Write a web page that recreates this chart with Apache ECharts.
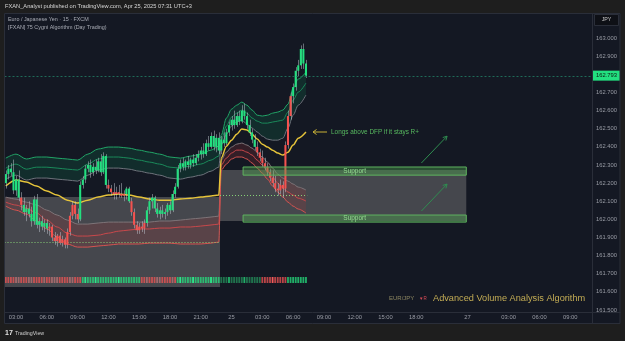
<!DOCTYPE html>
<html>
<head>
<meta charset="utf-8">
<script src="https://cdn.jsdelivr.net/npm/echarts@6/dist/echarts.min.js"></script>
<style>
  html, body { margin: 0; padding: 0; background: #1e1e1e; }
  #main { width: 625px; height: 341px; }
</style>
</head>
<body>
<div id="main"></div>
<script>
// EUR/JPY 15m FXCM, bars start Apr 24 02:00 (UTC+3)
const opens = [162.20,162.25,162.28,162.26,162.16,162.22,162.12,162.08,162.04,162.06,162.03,161.99,162.11,161.97,161.99,161.96,161.98,161.95,161.96,161.90,
  161.88,161.91,161.87,161.89,161.86,161.93,162.02,162.08,162.03,162.00,162.19,162.22,162.28,162.30,162.26,162.29,162.27,162.32,162.26,162.35,
  162.19,162.17,162.15,162.14,162.15,162.14,162.13,162.14,162.17,162.10,162.04,161.97,161.94,161.96,161.95,161.98,162.05,162.10,162.12,162.06,
  162.03,162.05,162.03,162.04,162.08,162.05,162.14,162.18,162.28,162.31,162.29,162.32,162.30,162.33,162.31,162.34,162.36,162.38,162.36,162.42,
  162.40,162.46,162.40,162.45,162.38,162.44,162.42,162.48,162.52,162.55,162.52,162.57,162.54,162.60,162.57,162.52,162.48,162.44,162.40,162.37,
  162.34,162.31,162.29,162.26,162.23,162.20,162.17,162.16,162.19,162.17,162.41,162.57,162.68,162.73,162.82,162.85,162.94,162.86];
const highs = [162.27,162.30,162.31,162.33,162.24,162.27,162.15,162.12,162.08,162.10,162.07,162.13,162.14,162.01,162.02,162.00,162.00,161.98,161.97,161.93,
  161.92,161.93,161.91,161.90,161.95,162.04,162.10,162.10,162.06,162.21,162.24,162.30,162.32,162.33,162.31,162.33,162.34,162.36,162.37,162.36,
  162.22,162.19,162.20,162.18,162.19,162.20,162.16,162.18,162.18,162.12,162.06,161.99,161.98,161.99,162.00,162.07,162.12,162.14,162.13,162.09,
  162.07,162.08,162.06,162.09,162.10,162.16,162.20,162.30,162.33,162.34,162.33,162.35,162.34,162.36,162.36,162.38,162.40,162.42,162.44,162.46,
  162.48,162.49,162.47,162.48,162.46,162.48,162.50,162.54,162.57,162.60,162.59,162.60,162.63,162.64,162.59,162.55,162.50,162.47,162.43,162.39,
  162.38,162.34,162.31,162.28,162.27,162.24,162.20,162.22,162.21,162.43,162.60,162.70,162.75,162.84,162.88,162.96,162.97,162.88];
const lows = [162.17,162.22,162.24,162.14,162.13,162.10,162.05,162.02,161.99,162.01,161.96,161.97,161.95,161.93,161.94,161.93,161.92,161.91,161.88,161.86,
  161.85,161.86,161.85,161.84,161.84,161.91,162.00,162.00,161.98,161.99,162.17,162.20,162.26,162.23,162.24,162.25,162.26,162.24,162.25,162.17,
  162.15,162.13,162.11,162.11,162.12,162.12,162.10,162.11,162.09,162.02,161.95,161.92,161.92,161.93,161.92,161.96,162.03,162.06,162.04,162.01,
  162.00,162.01,162.00,162.02,162.03,162.04,162.12,162.17,162.26,162.27,162.27,162.28,162.28,162.29,162.30,162.32,162.33,162.34,162.35,162.38,
  162.39,162.38,162.37,162.36,162.36,162.40,162.41,162.46,162.49,162.50,162.51,162.52,162.53,162.55,162.50,162.46,162.42,162.38,162.35,162.32,
  162.29,162.27,162.24,162.21,162.18,162.15,162.13,162.14,162.12,162.15,162.39,162.55,162.64,162.71,162.79,162.83,162.83,162.78];
const closes = [162.25,162.28,162.26,162.16,162.22,162.12,162.08,162.04,162.06,162.03,161.99,162.11,161.97,161.99,161.96,161.98,161.95,161.96,161.90,161.88,
  161.91,161.87,161.89,161.86,161.93,162.02,162.08,162.03,162.00,162.19,162.22,162.28,162.30,162.26,162.29,162.27,162.32,162.26,162.35,162.19,
  162.17,162.15,162.14,162.15,162.14,162.13,162.14,162.17,162.10,162.04,161.97,161.94,161.96,161.95,161.98,162.05,162.10,162.12,162.06,162.03,
  162.05,162.03,162.04,162.08,162.05,162.14,162.18,162.28,162.31,162.29,162.32,162.30,162.33,162.31,162.34,162.36,162.38,162.36,162.42,162.40,
  162.46,162.40,162.45,162.38,162.44,162.42,162.48,162.52,162.55,162.52,162.57,162.54,162.60,162.57,162.52,162.48,162.44,162.40,162.37,162.34,
  162.31,162.29,162.26,162.23,162.20,162.17,162.16,162.19,162.17,162.41,162.57,162.68,162.73,162.82,162.85,162.94,162.86,162.793];
// candle colouring by the algorithm (g = bullish regime, r = bearish regime)
const candleColors = 'gggggg' + 'r' + 'gggggggggg' + 'rrrrrrrrrrrr' + 'ggggggggggg' + 'rrrrrrr' + 'gg' + 'rrrrrr' +
  'gggggggggg' + 'gggggggggg' + 'gggggggggg' + 'gggggggggg' + 'ggg' + 'rrrrrrrrrrrrrr' + 'gggggg';
// volume strip colours
const volumeColors = 'rrrrpprrrpprrrrprrppprrrrpprrr' + 'gGgggGggggggggGgggggggg' + 'rrprrrpprrrrpr' +
  'gGggggGggggggGggg' + 'dddgdddddgdddddd' + 'rrrrRrrrrr' + 'gggggggg';
const lastPrice = 162.793;

// indicator bands, sampled at these bars (two day sessions)
const bandIdx = [0,4,8,12,16,20,24,28,32,36,40,44,48,52,56,60,64,68,72,76,80,83,
  84,86,88,90,92,94,96,98,100,102,104,106,108,110,112,114,117];
const sessionSplit = 22;
const upperTop = [162.338,162.360,162.333,162.344,162.344,162.338,162.333,162.327,162.360,162.388,162.399,162.399,162.393,162.382,162.371,162.360,162.344,162.338,162.349,162.360,162.382,162.404,
  162.465,162.559,162.608,162.630,162.647,162.630,162.603,162.575,162.570,162.575,162.586,162.592,162.603,162.636,162.724,162.774,162.812];
const upperMid = [162.283,162.305,162.277,162.288,162.288,162.283,162.277,162.272,162.305,162.333,162.344,162.344,162.338,162.327,162.316,162.305,162.288,162.283,162.294,162.305,162.327,162.349,
  162.437,162.515,162.564,162.586,162.603,162.586,162.559,162.542,162.531,162.531,162.537,162.542,162.548,162.592,162.658,162.702,162.752];
const upperLow = [162.222,162.244,162.217,162.228,162.228,162.222,162.217,162.211,162.244,162.272,162.283,162.283,162.277,162.266,162.255,162.244,162.228,162.222,162.233,162.244,162.266,162.288,
  162.410,162.470,162.515,162.537,162.548,162.526,162.504,162.482,162.459,162.443,162.437,162.437,162.448,162.504,162.575,162.630,162.686];
const dfp = [162.184,162.217,162.206,162.184,162.156,162.134,162.106,162.090,162.106,162.123,162.134,162.140,162.134,162.123,162.112,162.106,162.106,162.112,162.117,162.123,162.129,162.134,
  162.338,162.404,162.437,162.470,162.498,162.493,162.470,162.443,162.415,162.399,162.382,162.366,162.355,162.371,162.410,162.448,162.482];
const lowerHigh = [162.123,162.112,162.095,162.079,162.051,162.024,161.996,161.974,161.974,161.980,161.985,161.985,161.985,161.985,161.985,161.991,161.991,161.996,162.002,162.007,162.013,162.018,
  162.327,162.371,162.399,162.415,162.421,162.410,162.393,162.371,162.344,162.316,162.283,162.250,162.228,162.211,162.195,162.178,162.162];
const lowerMid = [162.095,162.079,162.062,162.035,161.996,161.958,161.924,161.908,161.908,161.913,161.924,161.935,161.941,161.947,161.947,161.952,161.952,161.958,161.958,161.963,161.969,161.974,
  162.300,162.338,162.366,162.382,162.382,162.371,162.355,162.327,162.300,162.266,162.233,162.200,162.173,162.151,162.134,162.117,162.101];
const lowerLow = [162.073,162.051,162.029,161.991,161.947,161.902,161.864,161.847,161.847,161.853,161.858,161.864,161.864,161.864,161.869,161.869,161.869,161.864,161.864,161.864,161.869,161.875,
  162.272,162.305,162.333,162.344,162.344,162.333,162.311,162.283,162.255,162.222,162.184,162.151,162.123,162.095,162.073,162.057,162.035];

// drawn zones: [first bar, last bar, top price, bottom price]
const rangeBoxes = [[0, 83, 162.123, 161.627], [84, 179, 162.272, 161.991]];
const supportZones = [[93, 179, 162.289, 162.244], [93, 179, 162.024, 161.985]];
// dotted levels: [first bar, last bar, price]
const dottedLevels = [[0, 83, 161.875], [84, 117, 162.134]];
// trade idea arrows: [bar, price, bar, price]
const ideaArrows = [[162, 162.311, 172, 162.459], [162, 162.046, 172, 162.195]];
const noteAnchor = [126, 162.482];

// time scale: 15 min bars, weekend gap after Fri 22:45
const nBars = 229, gapAt = 180;
const times = [];
for (let i = 0; i < nBars; i++) {
  const t = i < gapAt ? Date.UTC(2025, 3, 24, 2, 0) + i * 900000 : Date.UTC(2025, 3, 27, 23, 0) + (i - gapAt) * 900000;
  times.push(new Date(t));
}
const pad = n => (n < 10 ? '0' : '') + n;
const cats = times.map(d => pad(d.getUTCDate()) + ' ' + pad(d.getUTCHours()) + ':' + pad(d.getUTCMinutes()));
const labelMap = new Map();
const dayIdx = [];
times.forEach((d, i) => { if (i > 0 && d.getUTCDate() !== times[i - 1].getUTCDate()) dayIdx.push(i); });
let lastDay = -99;
dayIdx.forEach(i => { if (i - lastDay >= 12) { labelMap.set(i, String(times[i].getUTCDate())); lastDay = i; } });
const dayShown = [...labelMap.keys()];
times.forEach((d, i) => {
  if (d.getUTCMinutes() === 0 && d.getUTCHours() % 3 === 0 && dayIdx.indexOf(i) < 0) {
    if (!dayShown.some(k => Math.abs(k - i) < 10)) labelMap.set(i, pad(d.getUTCHours()) + ':00');
  }
});

const GREEN = '#22e07f', RED = '#f4524f';
const volPalette = { r: 'rgba(240,84,84,0.75)', p: 'rgba(210,125,125,0.65)', R: '#f25a5a',
  g: 'rgba(38,224,127,0.75)', G: '#2ee68a', d: 'rgba(40,175,105,0.6)' };
const FONT = 'Liberation Sans, Arial, sans-serif';
const AXIS_TXT = '#9a9da6';

const chart = echarts.init(document.getElementById('main'));

function bandLine(data, color, width) {
  return {
    type: 'line', data: bandIdx.map((x, k) => [x, data[k]]), showSymbol: false, smooth: 0.3,
    smoothMonotone: 'x', silent: true, lineStyle: { color: color, width: width }, z: 3
  };
}
function bandFill(upper, lower, color) {
  return {
    type: 'custom', silent: true, data: [[0], [1]], z: 2,
    renderItem: function (params, api) {
      const from = params.dataIndex === 0 ? 0 : sessionSplit;
      const to = params.dataIndex === 0 ? sessionSplit : bandIdx.length;
      const pts = [];
      for (let k = from; k < to; k++) pts.push(api.coord([bandIdx[k], upper[k]]));
      for (let k = to - 1; k >= from; k--) pts.push(api.coord([bandIdx[k], lower[k]]));
      return { type: 'polygon', shape: { points: pts }, style: { fill: color } };
    }
  };
}
function boxSeries(boxes, fill, stroke, text, z) {
  return {
    type: 'custom', silent: true, z: z, data: boxes, encode: { x: [0, 1], y: [2, 3] },
    renderItem: function (params, api) {
      const w = api.size([1, 0])[0];
      const a = api.coord([api.value(0), api.value(2)]);
      const b = api.coord([api.value(1), api.value(3)]);
      const x = a[0] - w / 2, width = b[0] + w / 2 - x;
      const children = [{ type: 'rect', shape: { x: x, y: a[1], width: width, height: b[1] - a[1] },
        style: { fill: fill, stroke: stroke, lineWidth: stroke ? 1 : 0 } }];
      if (text) children.push({ type: 'text', style: { x: x + width / 2, y: (a[1] + b[1]) / 2, text: text,
        fill: '#93dc8f', font: '6.5px ' + FONT, align: 'center', verticalAlign: 'middle' } });
      return { type: 'group', children: children };
    }
  };
}

const option = {
  backgroundColor: '#141823',
  animation: false,
  grid: { left: 4.5, right: 33, top: 20, bottom: 31 },
  xAxis: {
    type: 'category', data: cats, boundaryGap: true, z: 20,
    axisLine: { show: false }, axisTick: { show: false }, splitLine: { show: false },
    axisLabel: {
      interval: (i) => labelMap.has(i), formatter: (v, i) => labelMap.get(i) || '',
      color: AXIS_TXT, fontSize: 5.8, fontFamily: FONT, margin: 4.5
    }
  },
  yAxis: {
    type: 'value', position: 'right', min: 161.5, max: 163.1, interval: 0.1,
    axisLine: { show: false }, axisTick: { show: false }, splitLine: { show: false },
    axisLabel: { formatter: v => v.toFixed(3), showMaxLabel: false, color: AXIS_TXT, fontSize: 5.8,
      fontFamily: FONT, margin: 4 }
  },
  series: [
    boxSeries(rangeBoxes, 'rgba(128,128,128,0.45)', null, null, 1),
    bandFill(upperTop, upperLow, 'rgba(16,110,75,0.26)'),
    bandFill(lowerHigh, lowerLow, 'rgba(165,55,55,0.22)'),
    bandLine(upperTop, '#21a567', 1),
    bandLine(upperMid, '#1a8a5a', 1),
    bandLine(upperLow, '#6e727b', 1),
    bandLine(lowerHigh, '#7d7478', 1),
    bandLine(lowerMid, '#c9484b', 1),
    bandLine(lowerLow, '#d55350', 1),
    bandLine(dfp, '#e6c43a', 1.5),
    {
      type: 'custom', silent: true, z: 4, data: dottedLevels, encode: { x: [0, 1], y: 2 },
      renderItem: function (params, api) {
        const w = api.size([1, 0])[0];
        const a = api.coord([api.value(0), api.value(2)]), b = api.coord([api.value(1), api.value(2)]);
        const y = Math.round(a[1]) + 0.5;
        return { type: 'line', shape: { x1: a[0] - w / 2, y1: y, x2: b[0] + w / 2, y2: y },
          style: { stroke: '#86cf76', lineWidth: 1, lineDash: [1, 2] } };
      }
    },
    {
      type: 'custom', silent: true, z: 5, data: volumeColors.split('').map((c, i) => [i]),
      renderItem: function (params, api) {
        const i = api.value(0);
        const a = api.coord([i, 161.682]), b = api.coord([i, 161.649]);
        const w = api.size([1, 0])[0] * 0.72;
        return { type: 'rect', shape: { x: a[0] - w / 2, y: a[1], width: w, height: b[1] - a[1] },
          style: { fill: volPalette[volumeColors[i]] } };
      }
    },
    {
      type: 'custom', silent: true, z: 6,
      data: opens.map((o, i) => [i, o, closes[i], lows[i], highs[i]]),
      encode: { x: 0, y: [1, 2, 3, 4] },
      renderItem: function (params, api) {
        const i = api.value(0);
        const pO = api.coord([i, api.value(1)]), pC = api.coord([i, api.value(2)]);
        const pL = api.coord([i, api.value(3)]), pH = api.coord([i, api.value(4)]);
        const w = api.size([1, 0])[0] * 0.8;
        const top = Math.min(pO[1], pC[1]);
        const h = Math.max(Math.abs(pO[1] - pC[1]), 1);
        const xc = Math.round(pO[0]) + 0.5;
        return { type: 'group', children: [
          { type: 'line', shape: { x1: xc, y1: pH[1], x2: xc, y2: pL[1] },
            style: { stroke: 'rgba(190,195,205,0.5)', lineWidth: 1 } },
          { type: 'rect', shape: { x: pO[0] - w / 2, y: top, width: w, height: h },
            style: { fill: candleColors[i] === 'g' ? GREEN : RED } }
        ] };
      }
    },
    boxSeries(supportZones, 'rgba(80,170,80,0.38)', '#5fb35f', 'Support', 7),
    {
      type: 'custom', silent: true, z: 8, data: ideaArrows, encode: { x: [0, 2], y: [1, 3] },
      renderItem: function (params, api) {
        const a = api.coord([api.value(0), api.value(1)]), b = api.coord([api.value(2), api.value(3)]);
        const ang = Math.atan2(b[1] - a[1], b[0] - a[0]), L = 4.5;
        const st = { stroke: '#2f8c50', lineWidth: 1 };
        return { type: 'group', children: [
          { type: 'line', shape: { x1: a[0], y1: a[1], x2: b[0], y2: b[1] }, style: st },
          { type: 'line', shape: { x1: b[0], y1: b[1], x2: b[0] - L * Math.cos(ang - 0.5), y2: b[1] - L * Math.sin(ang - 0.5) }, style: st },
          { type: 'line', shape: { x1: b[0], y1: b[1], x2: b[0] - L * Math.cos(ang + 0.5), y2: b[1] - L * Math.sin(ang + 0.5) }, style: st }
        ] };
      }
    },
    {
      type: 'custom', silent: true, z: 8, data: [noteAnchor], encode: { x: 0, y: 1 },
      renderItem: function (params, api) {
        const p = api.coord([api.value(0), api.value(1)]);
        const ax = p[0] - 2, bx = p[0] - 16;
        const st = { stroke: '#c9b137', lineWidth: 1 };
        return { type: 'group', children: [
          { type: 'line', shape: { x1: ax, y1: p[1], x2: bx, y2: p[1] }, style: st },
          { type: 'line', shape: { x1: bx, y1: p[1], x2: bx + 3.5, y2: p[1] - 2.5 }, style: st },
          { type: 'line', shape: { x1: bx, y1: p[1], x2: bx + 3.5, y2: p[1] + 2.5 }, style: st },
          { type: 'text', style: { x: p[0] + 2, y: p[1], text: 'Longs above DFP if it stays R+', fill: '#57b85f',
            font: '6.4px ' + FONT, verticalAlign: 'middle' } }
        ] };
      }
    },
    {
      type: 'custom', silent: true, z: 9, data: [[0, lastPrice]], encode: { x: 0, y: 1 },
      renderItem: function (params, api) {
        const cs = params.coordSys;
        const y = api.coord([0, api.value(1)])[1];
        const yl = Math.round(y) + 0.5;
        return { type: 'group', children: [
          { type: 'line', shape: { x1: cs.x, y1: yl, x2: cs.x + cs.width, y2: yl },
            style: { stroke: '#1f6b58', lineWidth: 1, lineDash: [2, 2] } },
          { type: 'rect', shape: { x: cs.x + cs.width + 1, y: y - 5, width: 27, height: 10 }, style: { fill: '#22e07f' } },
          { type: 'text', style: { x: cs.x + cs.width + 14.5, y: y, text: api.value(1).toFixed(3), fill: '#0d1a12',
            font: '5.8px ' + FONT, align: 'center', verticalAlign: 'middle' } }
        ] };
      }
    }
  ],
  graphic: [
    { type: 'rect', z: 50, shape: { x: 0, y: 0, width: 625, height: 13 }, style: { fill: '#1e1e1e' } },
    { type: 'rect', z: 50, shape: { x: 0, y: 323.5, width: 625, height: 18 }, style: { fill: '#1e1e1e' } },
    { type: 'rect', z: 50, shape: { x: 0, y: 0, width: 4, height: 341 }, style: { fill: '#1e1e1e' } },
    { type: 'rect', z: 50, shape: { x: 620.5, y: 0, width: 5, height: 341 }, style: { fill: '#1e1e1e' } },
    { type: 'rect', z: 51, shape: { x: 4.5, y: 13.5, width: 615.5, height: 310 }, style: { fill: null, stroke: '#2a2e39', lineWidth: 1 } },
    { type: 'line', z: 51, shape: { x1: 592.5, y1: 13.5, x2: 592.5, y2: 323.5 }, style: { stroke: '#2a2e39', lineWidth: 1 } },
    { type: 'line', z: 51, shape: { x1: 4.5, y1: 312.5, x2: 620.5, y2: 312.5 }, style: { stroke: '#2a2e39', lineWidth: 1 } },
    { type: 'text', z: 52, style: { x: 5, y: 6.5, text: 'FXAN_Analyst published on TradingView.com, Apr 25, 2025 07:31 UTC+3',
      fill: '#d6d6d6', font: '5.7px ' + FONT, verticalAlign: 'middle' } },
    { type: 'text', z: 52, style: { x: 8, y: 19.5, text: 'Euro / Japanese Yen · 15 · FXCM',
      fill: '#a9acb5', font: '5.4px ' + FONT, verticalAlign: 'middle' } },
    { type: 'text', z: 52, style: { x: 8, y: 28, text: '[FXAN] 75 Cygni Algorithm (Day Trading)',
      fill: '#a9acb5', font: '5.4px ' + FONT, verticalAlign: 'middle' } },
    { type: 'rect', z: 52, shape: { x: 594.5, y: 14.5, width: 24, height: 11 }, style: { fill: '#0e1016', stroke: '#2a2e39', lineWidth: 1 } },
    { type: 'text', z: 53, style: { x: 606.5, y: 20, text: 'JPY', fill: '#c8c8c8', font: '5.3px ' + FONT,
      align: 'center', verticalAlign: 'middle' } },
    { type: 'text', z: 52, style: { x: 389, y: 298.5, text: 'EUR/JPY', fill: '#8d8762', font: '6px ' + FONT, verticalAlign: 'middle' } },
    { type: 'text', z: 52, style: { x: 419, y: 298.5, text: '▼R', fill: '#d84c57', font: '4.5px ' + FONT, verticalAlign: 'middle' } },
    { type: 'text', z: 52, style: { x: 433, y: 298, text: 'Advanced Volume Analysis Algorithm', fill: '#c4ad55',
      font: '9.2px ' + FONT, verticalAlign: 'middle' } },
    { type: 'text', z: 52, style: { x: 5, y: 333, text: '17', fill: '#e2e2e2', font: 'bold 7px ' + FONT, verticalAlign: 'middle' } },
    { type: 'text', z: 52, style: { x: 15, y: 333.5, text: 'TradingView', fill: '#cfcfcf', font: '5.3px ' + FONT, verticalAlign: 'middle' } }
  ]
};
chart.setOption(option);
</script>
</body>
</html>
